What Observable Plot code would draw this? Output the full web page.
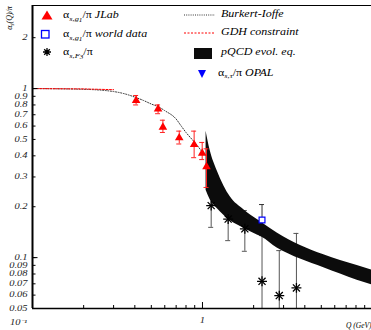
<!DOCTYPE html>
<html><head><meta charset="utf-8">
<script src="https://cdn.jsdelivr.net/npm/d3@7"></script>
<script src="https://cdn.jsdelivr.net/npm/@observablehq/plot@0.6"></script>
<style>
body{margin:0;background:#fff;}
#wrap{position:relative;width:371px;height:330px;overflow:hidden;font-family:"Liberation Serif","Times New Roman",serif;background:#fff;}
.lg{position:absolute;font-size:12px;line-height:12px;white-space:nowrap;color:#000;transform:scaleY(0.78);transform-origin:50% 50%;}
.lg i{font-style:italic;}
.lg sub{font-size:70%;vertical-align:-0.35em;font-style:italic;line-height:0;}
.lg sub sub{font-size:85%;vertical-align:-0.3em;}
#ylab{position:absolute;left:10px;top:18px;font-size:8px;font-style:italic;white-space:nowrap;transform:translate(-50%,-50%) rotate(-90deg);line-height:8px;}
#ylab sub{font-size:70%;vertical-align:-0.3em;line-height:0;}
#xlab{position:absolute;left:346px;top:322px;font-size:7.5px;font-style:italic;white-space:nowrap;line-height:8px;}
</style></head><body>
<div id="wrap"></div>
<script>
// ---- data ----
// JLab alpha_s,g1/pi
const jlabQ  = [0.407, 0.548, 0.585, 0.730, 0.893, 0.996, 1.056];
const jlabA  = [0.849, 0.758, 0.590, 0.511, 0.466, 0.414, 0.345];
const jlabLo = [0.800, 0.710, 0.550, 0.470, 0.390, 0.380, 0.260];
const jlabHi = [0.910, 0.800, 0.650, 0.560, 0.560, 0.480, 0.440];
// world data alpha_s,g1/pi
const worldQ  = [2.24];
const worldA  = [0.167];
const worldLo = [0.135];
const worldHi = [0.206];
// alpha_s,F3/pi
const f3Q  = [1.125, 1.416, 1.775, 2.24, 2.83, 3.57];
const f3A  = [0.203, 0.169, 0.148, 0.0724, 0.0596, 0.0662];
const f3Lo = [0.151, 0.126, 0.109, 0.030, 0.030, 0.030];
const f3Hi = [0.270, 0.220, 0.190, 0.135, 0.110, 0.139];
// OPAL alpha_s,tau/pi
const opalQ = [1.777];
const opalA = [0.170];
// Burkert-Ioffe
const biQ = [0.1, 0.2, 0.3, 0.35, 0.4, 0.45, 0.5, 0.55, 0.6, 0.7, 0.75, 0.8, 0.9, 1.0];
const biA = [1.0, 0.99, 0.96, 0.93, 0.89, 0.85, 0.81, 0.78, 0.74, 0.66, 0.60, 0.55, 0.48, 0.42];
// GDH constraint
const gdhQ = [0.1, 0.2, 0.3];
const gdhA = [1.0, 0.995, 0.985];
// pQCD evolution band
const bandQ  = [1.05, 1.11, 1.22, 1.46, 1.75, 2.1, 2.24, 2.75, 3.77, 5.17, 8.13, 9.87];
const bandHi = [0.56, 0.43, 0.327, 0.228, 0.192, 0.168, 0.161, 0.140, 0.118, 0.104, 0.0897, 0.0846];
const bandLo = [0.25, 0.22, 0.195, 0.165, 0.149, 0.136, 0.132, 0.114, 0.098, 0.087, 0.0735, 0.069];
// axes
const xDomain = [0.1, 9.87];
const yDomain = [0.05, 3.1];
const yTickVals = [0.05, 0.06, 0.07, 0.08, 0.09, 0.1, 0.2, 0.3, 0.4, 0.5, 0.6, 0.7, 0.8, 0.9, 1, 2];
const yTickText = ["0.05", "0.06", "0.07", "0.08", "0.09", "0.1", "0.2", "0.3", "0.4", "0.5", "0.6", "0.7", "0.8", "0.9", "1", "2"];
const yMajor = [0.1, 1];
const xMinor = [0.2, 0.3, 0.4, 0.5, 0.6, 0.7, 0.8, 0.9, 2, 3, 4, 5, 6, 7, 8, 9];
const xMajor = [1];
const xLabelVals = [0.1, 1];
const xLabelText = ["10⁻¹", "1"];

const zip = (q, a, lo, hi) => q.map((v, i) => ({q: v, a: a[i], lo: lo ? lo[i] : undefined, hi: hi ? hi[i] : undefined}));
const jlab = zip(jlabQ, jlabA, jlabLo, jlabHi);
const world = zip(worldQ, worldA, worldLo, worldHi);
const f3 = zip(f3Q, f3A, f3Lo, f3Hi);
const opal = zip(opalQ, opalA);
const bi = zip(biQ, biA);
const gdh = zip(gdhQ, gdhA);
const band = zip(bandQ, bandHi, bandLo, bandHi);
const yTicks = yTickVals.map((v, i) => ({v, t: yTickText[i]}));

const chart = Plot.plot({
  width: 371, height: 330,
  marginTop: 5, marginLeft: 32, marginRight: 0, marginBottom: 22,
  x: {type: "log", domain: xDomain, axis: null},
  y: {type: "log", domain: yDomain, axis: null},
  style: {fontFamily: "'Liberation Serif', 'Times New Roman', serif", background: "white", color: "black"},
  marks: [
    Plot.line(bi, {x: "q", y: "a", stroke: "#333", strokeWidth: 1, strokeDasharray: "1,1.6", curve: "monotone-x"}),
    Plot.line(gdh, {x: "q", y: "a", stroke: "#ff0000", strokeWidth: 1, strokeDasharray: "2,1.5"}),
    Plot.dot(opal, {x: "q", y: "a", symbol: "triangle", rotate: 180, fill: "#0000ff", r: 3.5}),
    // F3 error bars (behind the band)
    Plot.ruleX(f3, {x: "q", y1: "lo", y2: "hi", stroke: "#555", strokeWidth: 1, clip: true}),
    Plot.ruleY(f3, {y: "hi", x1: "q", x2: "q", insetLeft: -2.5, insetRight: -2.5, stroke: "#555", clip: true}),
    Plot.ruleY(f3, {y: "lo", x1: "q", x2: "q", insetLeft: -2.5, insetRight: -2.5, stroke: "#555", clip: true}),
    Plot.ruleX(world, {x: "q", y1: "lo", y2: "hi", stroke: "#333", strokeWidth: 1}),
    Plot.ruleY(world, {y: "hi", x1: "q", x2: "q", insetLeft: -2.5, insetRight: -2.5, stroke: "#333"}),
    Plot.areaY(band, {x: "q", y1: "lo", y2: "hi", fill: "#0c0c0c", curve: "monotone-x"}),
    Plot.dot(f3, {x: "q", y: "a", symbol: "plus", stroke: "black", strokeWidth: 1.3, r: 3.3}),
    Plot.dot(f3, {x: "q", y: "a", symbol: "times", stroke: "black", strokeWidth: 1.3, r: 3.3}),
    Plot.dot(world, {x: "q", y: "a", symbol: "square", fill: "white", stroke: "#0000ff", strokeWidth: 1.2, r: 3.3}),
    // JLab
    Plot.ruleX(jlab, {x: "q", y1: "lo", y2: "hi", stroke: "#ff2020", strokeWidth: 1}),
    Plot.ruleY(jlab, {y: "hi", x1: "q", x2: "q", insetLeft: -2.5, insetRight: -2.5, stroke: "#ff2020"}),
    Plot.ruleY(jlab, {y: "lo", x1: "q", x2: "q", insetLeft: -2.5, insetRight: -2.5, stroke: "#ff2020"}),
    Plot.dot(jlab, {x: "q", y: "a", symbol: "triangle", fill: "#ff0000", r: 3.2}),
    // frame / axes
    Plot.ruleY([yDomain[1]], {stroke: "black", strokeWidth: 1}),
    Plot.ruleY([yDomain[0]], {stroke: "black", strokeWidth: 1.5}),
    Plot.ruleX([xDomain[0]], {stroke: "black", strokeWidth: 2}),
    Plot.ruleY(yTickVals, {y: d => d, x1: xDomain[0], x2: xDomain[0], insetRight: -3.5, stroke: "black"}),
    Plot.ruleY(yMajor, {y: d => d, x1: xDomain[0], x2: xDomain[0], insetRight: -5.5, stroke: "black"}),
    Plot.ruleX(xMinor, {x: d => d, y1: yDomain[0], y2: yDomain[0], insetBottom: 3, stroke: "black"}),
    Plot.ruleX(xMajor, {x: d => d, y1: yDomain[0], y2: yDomain[0], insetBottom: 6, stroke: "black"}),
    Plot.text(yTicks, {y: "v", text: "t", frameAnchor: "left", dx: -5, textAnchor: "end", lineAnchor: "middle", fontSize: 10.5, fontStyle: "italic", fill: "#222"}),
    Plot.text(xLabelVals.slice(0, 1), {x: d => d, frameAnchor: "bottom", dy: 14, dx: -14, lineAnchor: "middle", text: () => xLabelText[0], fontSize: 10.5, fontStyle: "italic", fill: "#222"}),
    Plot.text(xLabelVals.slice(1), {x: d => d, frameAnchor: "bottom", dy: 12, lineAnchor: "middle", text: () => xLabelText[1], fontSize: 10.5, fontStyle: "italic", fill: "#222"})
  ]
});

// the reference's glyphs are vertically squashed; mimic that (appending to Plot's own positioning)
chart.querySelectorAll("g[aria-label='text'] text").forEach(t => {
  const tr = t.getAttribute("transform") || "";
  t.setAttribute("transform", `${tr} scale(1,0.7)`);
});

const wrap = document.getElementById("wrap");
chart.style.position = "absolute";
chart.style.left = "0px";
chart.style.top = "0px";
wrap.appendChild(chart);

wrap.insertAdjacentHTML("beforeend", `
<svg width="371" height="330" style="position:absolute;left:0;top:0;pointer-events:none">
  <path d="M47,10.5 L52.5,19.5 L41.5,19.5 Z" fill="#ff0000"/>
  <rect x="41.5" y="30.5" width="7.5" height="7.5" fill="none" stroke="#0000ff" stroke-width="1.3"/>
  <path d="M43,52 H51 M47,48 V56 M44.2,49.2 L49.8,54.8 M49.8,49.2 L44.2,54.8" stroke="black" stroke-width="1.3"/>
  <line x1="184" y1="15" x2="215" y2="15" stroke="#333" stroke-dasharray="1,1.2"/>
  <line x1="184" y1="33" x2="215" y2="33" stroke="#ff0000" stroke-dasharray="2,1.5"/>
  <rect x="194" y="48" width="18" height="11" fill="#0c0c0c"/>
  <path d="M198,70 L206,70 L202,78 Z" fill="#0000ff"/>
</svg>
<div class="lg" style="left:63px;top:9px">α<sub>s,g<sub>1</sub></sub>/π <i>JLab</i></div>
<div class="lg" style="left:63px;top:28px">α<sub>s,g<sub>1</sub></sub>/π <i>world data</i></div>
<div class="lg" style="left:63px;top:46px">α<sub>s,F<sub>3</sub></sub>/π</div>
<div class="lg" style="left:221px;top:8px"><i>Burkert-Ioffe</i></div>
<div class="lg" style="left:221px;top:26px"><i>GDH constraint</i></div>
<div class="lg" style="left:221px;top:45.5px"><i>pQCD evol. eq.</i></div>
<div class="lg" style="left:218px;top:67px">α<sub>s,τ</sub>/π <i>OPAL</i></div>
<div id="ylab">α<sub>s</sub>(Q)/π</div>
<div id="xlab">Q (GeV)</div>
`);
</script>
</body></html>
